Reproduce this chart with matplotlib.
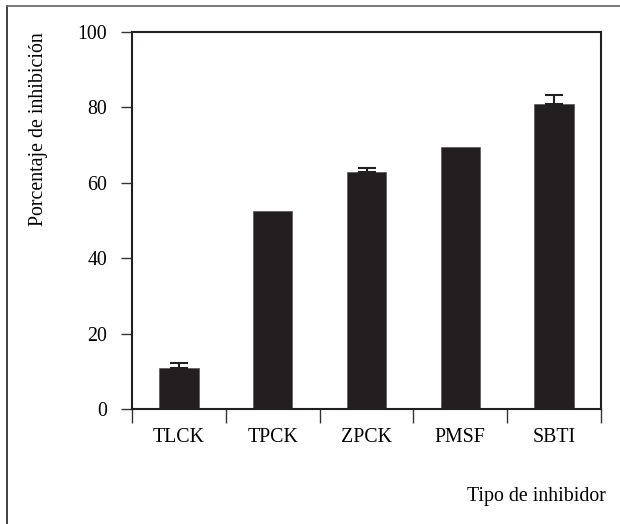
import matplotlib
matplotlib.use("Agg")
import matplotlib.pyplot as plt
from matplotlib.lines import Line2D

categories = ["TLCK", "TPCK", "ZPCK", "PMSF", "SBTI"]
values = [10.9, 52.5, 62.8, 69.4, 80.8]
errors = [1.2, 0.0, 1.0, 0.0, 2.4]
yticks = [0, 20, 40, 60, 80, 100]

plt.rcParams['font.family'] = ['Liberation Serif', 'DejaVu Serif']
FS = 14.3

fig = plt.figure(figsize=(6.2, 5.24), dpi=100)
W, H = 620, 524
ax = fig.add_axes([132 / W, 1 - 409 / H, (601 - 132) / W, (409 - 32) / H])

barc = "#231f20"
x = list(range(len(categories)))
ax.bar(x, values, width=0.42, color=barc, edgecolor="#555555", linewidth=0.5, zorder=2)
for xi, v, e in zip(x, values, errors):
    if e > 0:
        ax.errorbar([xi], [v], yerr=[[0], [e]], fmt="none", ecolor=barc,
                    elinewidth=1.5, capsize=6.5, capthick=1.5, zorder=3)

ax.set_xlim(-0.5, len(categories) - 0.5)
ax.set_ylim(0, 100)
ax.set_yticks(yticks)
ax.set_yticklabels([str(t) for t in yticks], fontsize=FS)
ax.set_xticks([i - 0.5 for i in range(len(categories) + 1)])
ax.set_xticklabels([])
ax.set_xticks(x, minor=True)
ax.set_xticklabels(categories, minor=True, fontsize=FS)
ax.tick_params(axis="x", which="minor", length=0, pad=14)
ax.tick_params(axis="x", which="major", length=10, width=1.0, color="#333333", direction="out")
ax.tick_params(axis="y", length=8, width=1.0, color="#333333", direction="out", pad=10)
for s in ax.spines.values():
    s.set_linewidth(1.5)
    s.set_color("#231f20")

fig.text(39 / W, 1 - 129 / H, "Porcentaje de inhibición", rotation=90,
         ha="center", va="center", fontsize=FS)
fig.text(536 / W, 1 - 497 / H, "Tipo de inhibidor", ha="center", va="center", fontsize=FS)

# figure frame: only top and left edges fall inside the image
fig.lines.append(Line2D([7 / W, 7 / W], [0, 1 - 6 / H], transform=fig.transFigure,
                        color="#333333", linewidth=1.3))
fig.lines.append(Line2D([7 / W, 1], [1 - 6 / H, 1 - 6 / H], transform=fig.transFigure,
                        color="#6e6e6e", linewidth=1.3))

fig.savefig("out.png", dpi=100)
